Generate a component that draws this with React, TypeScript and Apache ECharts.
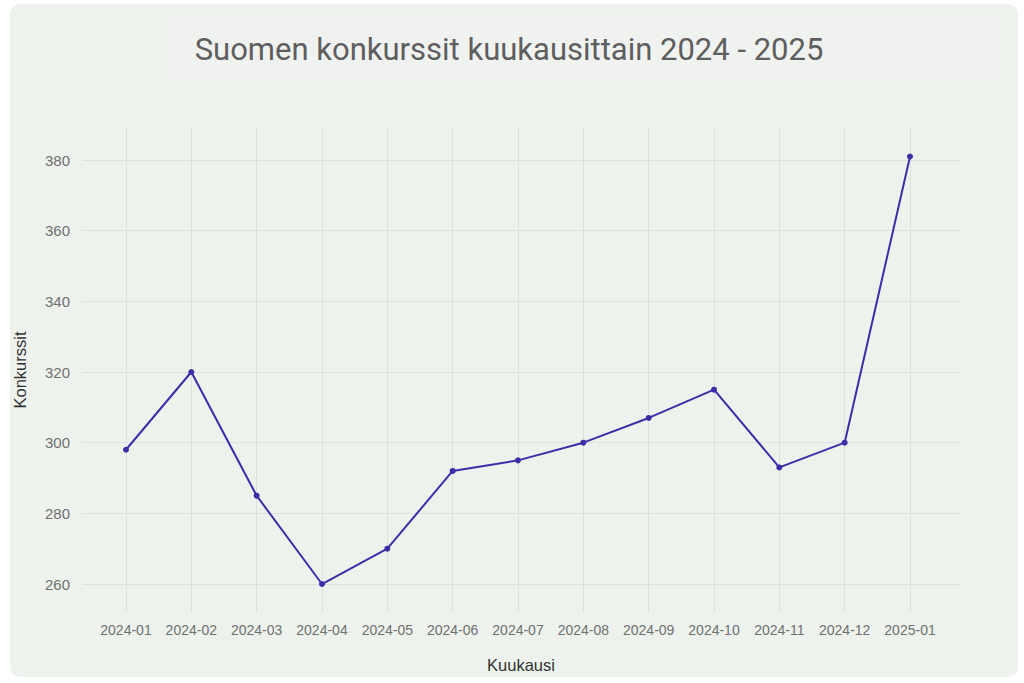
import React, { useEffect, useRef } from "react";
import * as echarts from "echarts";

const months = [
  "2024-01", "2024-02", "2024-03", "2024-04", "2024-05", "2024-06", "2024-07",
  "2024-08", "2024-09", "2024-10", "2024-11", "2024-12", "2025-01",
];
const bankruptcies = [298, 320, 285, 260, 270, 292, 295, 300, 307, 315, 293, 300, 381];
const yTicks = [260, 280, 300, 320, 340, 360, 380];

const titleText = "Suomen konkurssit kuukausittain 2024 - 2025";
const xName = "Kuukausi";
const yName = "Konkurssit";

export default function App() {
  const ref = useRef<HTMLDivElement>(null);

  useEffect(() => {
    if (!ref.current) return;
    const chart = echarts.init(ref.current, null, { renderer: "svg" });
    const idx = months.map((_, i) => i);
    const lineColor = "#3a2fa8";
    const gridColor = "#dde1dd";
    chart.setOption({
      animation: false,
      backgroundColor: "#ffffff",
      graphic: [
        {
          type: "rect",
          z: -10,
          shape: { x: 10, y: 4, width: 1008, height: 673, r: 10 },
          style: { fill: "#edf2ed" },
        },
        {
          type: "rect",
          z: -9,
          shape: { x: 163, y: 15, width: 840, height: 65, r: 4 },
          style: { fill: "#f0f2f0" },
        },
        {
          type: "text",
          x: 509,
          y: 49,
          style: {
            text: titleText,
            font: "400 31px Roboto",
            fill: "#5e5e5e",
            align: "center",
            verticalAlign: "middle",
          },
        },
      ],
      grid: { left: 82, right: 64, top: 128, bottom: 71, containLabel: false },
      xAxis: {
        type: "value",
        min: -0.673,
        max: 12.765,
        name: xName,
        nameLocation: "middle",
        nameGap: 44,
        nameTextStyle: { color: "#333333", fontSize: 16.5, fontFamily: "Liberation Sans" },
        axisLine: { show: false },
        axisTick: { show: false, customValues: idx },
        axisLabel: {
          customValues: idx,
          formatter: (v: number) => months[Math.round(v)] ?? "",
          color: "#707070",
          fontSize: 14,
          fontFamily: "Liberation Sans",
          margin: 11,
        },
        splitLine: { show: true, lineStyle: { color: gridColor, width: 1 } },
      },
      yAxis: {
        type: "value",
        min: 252.08,
        max: 389.06,
        name: yName,
        nameLocation: "middle",
        nameGap: 54,
        nameTextStyle: { color: "#333333", fontSize: 16.5, fontFamily: "Liberation Sans" },
        axisLine: { show: false },
        axisTick: { show: false, customValues: yTicks },
        axisLabel: {
          customValues: yTicks,
          color: "#707070",
          fontSize: 15,
          fontFamily: "Liberation Sans",
          margin: 12,
        },
        splitLine: { show: true, lineStyle: { color: gridColor, width: 1 } },
      },
      series: [
        {
          type: "line",
          data: bankruptcies.map((v, i) => [i, v]),
          symbol: "circle",
          symbolSize: 6,
          lineStyle: { color: lineColor, width: 2 },
          itemStyle: { color: lineColor },
        },
      ],
    });
    return () => chart.dispose();
  }, []);

  return (
    <div
      ref={ref}
      style={{ position: "fixed", left: 0, top: 0, width: 1024, height: 683 }}
    />
  );
}
